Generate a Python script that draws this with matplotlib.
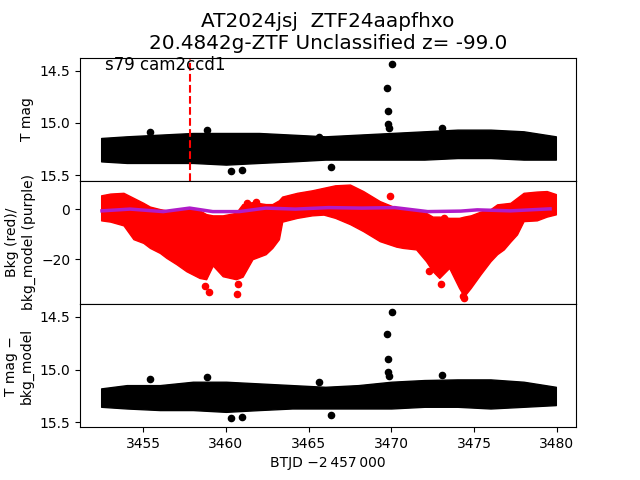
import matplotlib
matplotlib.use('Agg')  # 非交互式后端
import matplotlib.pyplot as plt

# ========== 数据 ==========
# 顶部 / 底部面板：密集光变点的上下包络 (BTJD, mag)
band_t = [3452.45, 3454.0, 3456.0, 3458.0, 3460.0, 3462.0, 3464.0, 3466.0,
          3468.0, 3470.0, 3472.0, 3474.0, 3476.0, 3478.0, 3479.95]
tmag_hi = [15.145, 15.129, 15.113, 15.097, 15.097, 15.097, 15.113, 15.129,
           15.113, 15.097, 15.081, 15.065, 15.065, 15.081, 15.129]
tmag_lo = [15.369, 15.384, 15.384, 15.384, 15.400, 15.384, 15.369, 15.352,
           15.352, 15.352, 15.352, 15.337, 15.337, 15.352, 15.352]
sub_hi = [15.178, 15.147, 15.147, 15.115, 15.115, 15.131, 15.147, 15.163,
          15.147, 15.115, 15.099, 15.093, 15.093, 15.115, 15.163]
sub_lo = [15.352, 15.368, 15.383, 15.383, 15.400, 15.383, 15.368, 15.368,
          15.368, 15.368, 15.352, 15.352, 15.368, 15.352, 15.336]

# 孤立点
out_t = [3470.06, 3469.76, 3469.82, 3469.80, 3469.85, 3458.83, 3473.09,
         3465.65, 3460.29, 3460.95, 3466.37, 3455.40]
out_tmag = [14.436, 14.666, 14.883, 15.008, 15.049, 15.065, 15.049,
            15.135, 15.464, 15.448, 15.423, 15.090]
out_sub = [14.453, 14.667, 14.903, 15.021, 15.062, 15.068, 15.052,
           15.120, 15.462, 15.453, 15.434, 15.093]

# 中间面板：背景 (红) 包络
bkg_t = [3452.45, 3453.0, 3453.8, 3454.4, 3455.0, 3455.4, 3456.0, 3456.4,
         3457.0, 3457.6, 3458.4, 3458.8, 3459.2, 3459.8, 3460.6, 3461.0,
         3461.6, 3462.4, 3462.8, 3463.2, 3463.4, 3464.3, 3465.2, 3465.9,
         3466.6, 3467.5, 3468.3, 3469.3, 3470.3, 3470.7, 3471.5, 3472.1,
         3472.5, 3472.9, 3473.5, 3474.1, 3474.4, 3474.8, 3475.4, 3476.0,
         3476.4, 3476.8, 3477.2, 3477.6, 3478.0, 3478.8, 3479.4, 3479.95]
bkg_hi = [5.5, 6.2, 6.5, 4.5, 2.5, 1.0, 0.0, -0.5,
          -0.8, 0.5, -0.5, -2.0, -2.5, -2.5, -1.5, 2.0,
          2.8, 2.0, 2.0, 3.5, 5.0, 6.5, 7.5, 8.5,
          9.5, 9.8, 7.2, 3.2, 0.5, 0.0, -0.8, -1.5,
          -3.0, -3.0, -3.5, -3.5, -3.0, -2.5, -1.0, 0.0,
          1.9, 2.2, 2.5, 4.5, 6.5, 7.0, 7.2, 6.0]
bkg_lo = [-4.5, -5.0, -6.5, -12.0, -13.5, -15.5, -17.5, -19.5,
          -22.0, -24.8, -27.5, -28.0, -22.5, -26.8, -28.0, -27.0,
          -20.0, -18.0, -15.5, -12.0, -5.0, -3.5, -2.5, -2.2,
          -3.5, -6.0, -8.8, -12.8, -15.0, -15.5, -16.1, -20.8,
          -24.8, -27.5, -23.5, -31.5, -34.8, -31.5, -26.0, -20.8,
          -18.0, -16.1, -13.0, -10.1, -4.8, -4.5, -3.0, -2.1]
bkg_out_t = [3458.73, 3458.99, 3460.75, 3460.65, 3461.25, 3461.8, 3469.92,
             3472.28, 3473.0, 3474.36, 3474.40, 3473.2, 3474.96, 3474.1]
bkg_out_v = [-30.8, -33.2, -29.9, -33.8, 2.5, 2.9, 5.2,
             -24.8, -30.1, -34.8, -35.7, -3.5, -6.1, -5.6]

# 背景模型 (紫)
model_t = [3452.5, 3454.2, 3456.2, 3457.8, 3459.2, 3460.8, 3462.4, 3464.2,
           3466.2, 3468.2, 3470.2, 3472.2, 3474.2, 3475.2, 3477.2, 3479.6]
model_v = [-0.7, 0.0, -1.0, 0.4, -1.0, -1.0, 0.4, 0.0,
           0.6, 0.4, 0.6, -1.0, -0.8, -0.3, -0.7, 0.1]

t_mark = 3457.8  # 红色虚线位置

# ========== 绘图 ==========
fig, axes = plt.subplots(3, 1, sharex=True, figsize=(6.4, 4.8), dpi=100)
fig.subplots_adjust(hspace=0)
ax1, ax2, ax3 = axes

# 顶部：T mag
ax1.fill_between(band_t, tmag_hi, tmag_lo, color='k', lw=1.0, edgecolor='k')
ax1.scatter(out_t, out_tmag, color='k', s=20)
ax1.axvline(t_mark, color='r', ls='--', lw=1.5)
ax1.set_ylim(15.555, 14.375)
ax1.set_ylabel('T mag')
ax1.text(0.05, 0.9, 's79 cam2ccd1', transform=ax1.transAxes, fontsize=12)
ax1.set_title('AT2024jsj  ZTF24aapfhxo\n20.4842g-ZTF Unclassified z= -99.0',
              fontsize=14.4)
ax1.tick_params(axis='x', bottom=False)

# 中间：背景
ax2.fill_between(bkg_t, bkg_hi, bkg_lo, color='r', lw=1.0, edgecolor='r')
ax2.scatter(bkg_out_t, bkg_out_v, color='r', s=20)
ax2.plot(model_t, model_v, color='#b01cc8', lw=2.5)
ax2.set_ylim(-37.9, 11.3)
ax2.set_ylabel('Bkg (red)/\nbkg_model (purple)')
ax2.tick_params(axis='x', bottom=False)

# 底部：T mag - bkg_model
ax3.fill_between(band_t, sub_hi, sub_lo, color='k', lw=1.0, edgecolor='k')
ax3.scatter(out_t, out_sub, color='k', s=20)
ax3.set_ylim(15.545, 14.38)
ax3.set_ylabel('T mag \u2212\nbkg_model')
ax3.set_xlim(3451.17, 3481.17)
ax3.set_xlabel('BTJD \u22122\u2009457\u2009000')

fig.savefig('out.png', dpi=100)
plt.close(fig)
